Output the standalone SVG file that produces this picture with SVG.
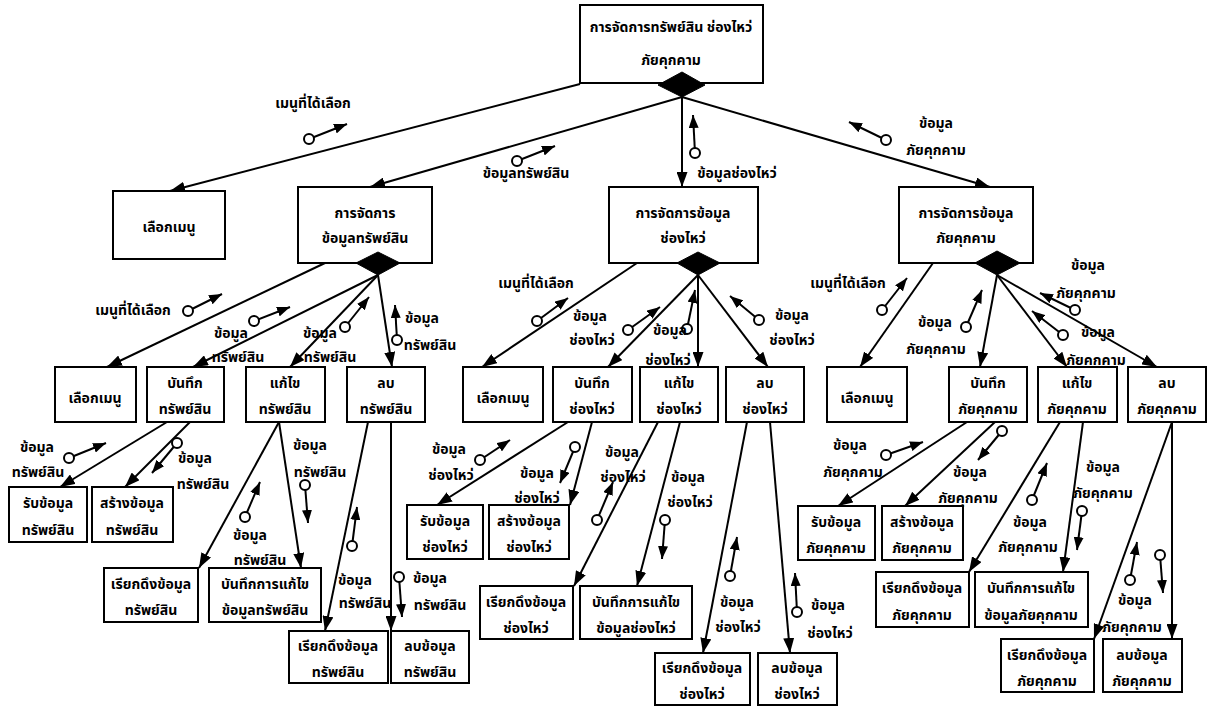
<svg xmlns="http://www.w3.org/2000/svg" width="1210" height="707" viewBox="0 0 1210 707">
<style>
.box{fill:#fff;stroke:#000;stroke-width:2}
.dia{fill:#000;stroke:#000;stroke-width:1}
.con{stroke:#000;stroke-width:2;fill:none;marker-end:url(#arr)}
.cp line{stroke:#000;stroke-width:2;marker-end:url(#carr)}
.cp circle{fill:#fff;stroke:#000;stroke-width:2}
text{font-family:"Noto Sans Thai","Noto Sans","DejaVu Sans",sans-serif;font-weight:bold;font-size:14px;text-anchor:middle;fill:#000}
</style>
<defs>
<marker id="arr" markerUnits="userSpaceOnUse" markerWidth="15" markerHeight="11" refX="15" refY="5.5" orient="auto"><path d="M0,0 L15,5.5 L0,11 z" fill="#000"/></marker>
<marker id="carr" markerUnits="userSpaceOnUse" markerWidth="13" markerHeight="10" refX="13" refY="5" orient="auto"><path d="M0,0 L13,5 L0,10 z" fill="#000"/></marker>
</defs>
<rect width="1210" height="707" fill="#fff"/>

<g id="connectors">
<line class="con" x1="580" y1="84" x2="170" y2="191"/>
<line class="con" x1="682" y1="97" x2="370" y2="187"/>
<line class="con" x1="682" y1="97" x2="682" y2="187"/>
<line class="con" x1="682" y1="97" x2="990" y2="187"/>
<line class="con" x1="325" y1="263" x2="107" y2="367"/>
<line class="con" x1="378" y1="275" x2="193" y2="367"/>
<line class="con" x1="378" y1="275" x2="290" y2="367"/>
<line class="con" x1="378" y1="275" x2="392" y2="367"/>
<line class="con" x1="637" y1="263" x2="482" y2="367"/>
<line class="con" x1="698" y1="275" x2="608" y2="367"/>
<line class="con" x1="698" y1="275" x2="698" y2="367"/>
<line class="con" x1="698" y1="275" x2="768" y2="367"/>
<line class="con" x1="933" y1="263" x2="860" y2="367"/>
<line class="con" x1="997" y1="275" x2="980" y2="367"/>
<line class="con" x1="997" y1="275" x2="1067" y2="367"/>
<line class="con" x1="997" y1="275" x2="1157" y2="367"/>
<line class="con" x1="167" y1="422" x2="60" y2="487"/>
<line class="con" x1="190" y1="422" x2="125" y2="487"/>
<line class="con" x1="279" y1="422" x2="199" y2="568"/>
<line class="con" x1="279" y1="422" x2="301" y2="568"/>
<line class="con" x1="368" y1="422" x2="325" y2="631"/>
<line class="con" x1="391" y1="422" x2="391" y2="631"/>
<line class="con" x1="568" y1="422" x2="437" y2="505"/>
<line class="con" x1="592" y1="422" x2="570" y2="505"/>
<line class="con" x1="658" y1="422" x2="574" y2="586"/>
<line class="con" x1="680" y1="422" x2="637" y2="586"/>
<line class="con" x1="747" y1="422" x2="703" y2="653"/>
<line class="con" x1="770" y1="422" x2="790" y2="653"/>
<line class="con" x1="967" y1="422" x2="838" y2="506"/>
<line class="con" x1="995" y1="422" x2="905" y2="506"/>
<line class="con" x1="1060" y1="422" x2="969" y2="572"/>
<line class="con" x1="1083" y1="422" x2="1063" y2="572"/>
<line class="con" x1="1172" y1="422" x2="1094" y2="639"/>
<line class="con" x1="1172" y1="422" x2="1172" y2="639"/>
</g>

<g id="couples">
<g class="cp"><line x1="309" y1="139" x2="347" y2="124"/><circle cx="309" cy="139" r="5"/></g>
<g class="cp"><line x1="517" y1="161" x2="555" y2="146"/><circle cx="517" cy="161" r="5"/></g>
<g class="cp"><line x1="695" y1="153" x2="693" y2="115"/><circle cx="695" cy="153" r="5"/></g>
<g class="cp"><line x1="886" y1="140" x2="849" y2="122"/><circle cx="886" cy="140" r="5"/></g>
<g class="cp"><line x1="188" y1="311" x2="222" y2="294"/><circle cx="188" cy="311" r="5"/></g>
<g class="cp"><line x1="254" y1="321" x2="290" y2="307"/><circle cx="254" cy="321" r="5"/></g>
<g class="cp"><line x1="345" y1="327" x2="369" y2="297"/><circle cx="345" cy="327" r="5"/></g>
<g class="cp"><line x1="397" y1="340" x2="395" y2="305"/><circle cx="397" cy="340" r="5"/></g>
<g class="cp"><line x1="537" y1="321" x2="568" y2="298"/><circle cx="537" cy="321" r="5"/></g>
<g class="cp"><line x1="628" y1="330" x2="660" y2="307"/><circle cx="628" cy="330" r="5"/></g>
<g class="cp"><line x1="687" y1="329" x2="695" y2="290"/><circle cx="687" cy="329" r="5"/></g>
<g class="cp"><line x1="759" y1="320" x2="730" y2="296"/><circle cx="759" cy="320" r="5"/></g>
<g class="cp"><line x1="882" y1="310" x2="907" y2="278"/><circle cx="882" cy="310" r="5"/></g>
<g class="cp"><line x1="966" y1="327" x2="982" y2="290"/><circle cx="966" cy="327" r="5"/></g>
<g class="cp"><line x1="1063" y1="335" x2="1032" y2="311"/><circle cx="1063" cy="335" r="5"/></g>
<g class="cp"><line x1="1075" y1="310" x2="1040" y2="293"/><circle cx="1075" cy="310" r="5"/></g>
<g class="cp"><line x1="69" y1="458" x2="106" y2="443"/><circle cx="69" cy="458" r="5"/></g>
<g class="cp"><line x1="177" y1="443" x2="152" y2="473"/><circle cx="177" cy="443" r="5"/></g>
<g class="cp"><line x1="245" y1="517" x2="260" y2="482"/><circle cx="245" cy="517" r="5"/></g>
<g class="cp"><line x1="305" y1="485" x2="308" y2="523"/><circle cx="305" cy="485" r="5"/></g>
<g class="cp"><line x1="352" y1="546" x2="357" y2="507"/><circle cx="352" cy="546" r="5"/></g>
<g class="cp"><line x1="399" y1="577" x2="402" y2="617"/><circle cx="399" cy="577" r="5"/></g>
<g class="cp"><line x1="480" y1="460" x2="510" y2="440"/><circle cx="480" cy="460" r="5"/></g>
<g class="cp"><line x1="575" y1="447" x2="560" y2="483"/><circle cx="575" cy="447" r="5"/></g>
<g class="cp"><line x1="597" y1="520" x2="613" y2="482"/><circle cx="597" cy="520" r="5"/></g>
<g class="cp"><line x1="665" y1="520" x2="662" y2="559"/><circle cx="665" cy="520" r="5"/></g>
<g class="cp"><line x1="730" y1="576" x2="737" y2="537"/><circle cx="730" cy="576" r="5"/></g>
<g class="cp"><line x1="797" y1="612" x2="795" y2="573"/><circle cx="797" cy="612" r="5"/></g>
<g class="cp"><line x1="886" y1="455" x2="923" y2="442"/><circle cx="886" cy="455" r="5"/></g>
<g class="cp"><line x1="1002" y1="431" x2="978" y2="460"/><circle cx="1002" cy="431" r="5"/></g>
<g class="cp"><line x1="1032" y1="500" x2="1047" y2="463"/><circle cx="1032" cy="500" r="5"/></g>
<g class="cp"><line x1="1082" y1="511" x2="1077" y2="550"/><circle cx="1082" cy="511" r="5"/></g>
<g class="cp"><line x1="1130" y1="580" x2="1137" y2="542"/><circle cx="1130" cy="580" r="5"/></g>
<g class="cp"><line x1="1160" y1="555" x2="1163" y2="593"/><circle cx="1160" cy="555" r="5"/></g>
</g>

<g id="couple-labels">
<text x="313" y="108">เมนูที่ได้เลือก</text>
<text x="526" y="178">ข้อมูลทรัพย์สิน</text>
<text x="737" y="178">ข้อมูลช่องไหว่</text>
<text x="936" y="128">ข้อมูล</text><text x="936" y="155">ภัยคุกคาม</text>
<text x="133" y="315">เมนูที่ได้เลือก</text>
<text x="231" y="338">ข้อมูล</text><text x="238" y="362">ทรัพย์สิน</text>
<text x="320" y="338">ข้อมูล</text><text x="330" y="362">ทรัพย์สิน</text>
<text x="422" y="323">ข้อมูล</text><text x="430" y="350">ทรัพย์สิน</text>
<text x="536" y="288">เมนูที่ได้เลือก</text>
<text x="590" y="321">ข้อมูล</text><text x="592" y="345">ช่องไหว่</text>
<text x="670" y="335">ข้อมูล</text><text x="668" y="365">ช่องไหว่</text>
<text x="792" y="320">ข้อมูล</text><text x="792" y="345">ช่องไหว่</text>
<text x="848" y="288">เมนูที่ได้เลือก</text>
<text x="935" y="327">ข้อมูล</text><text x="936" y="354">ภัยคุกคาม</text>
<text x="1098" y="337">ข้อมูล</text><text x="1096" y="365">ภัยคุกคาม</text>
<text x="1088" y="270">ข้อมูล</text><text x="1086" y="298">ภัยคุกคาม</text>
<text x="37" y="452">ข้อมูล</text><text x="38" y="477">ทรัพย์สิน</text>
<text x="195" y="463">ข้อมูล</text><text x="203" y="489">ทรัพย์สิน</text>
<text x="250" y="540">ข้อมูล</text><text x="260" y="565">ทรัพย์สิน</text>
<text x="310" y="450">ข้อมูล</text><text x="320" y="477">ทรัพย์สิน</text>
<text x="355" y="585">ข้อมูล</text><text x="365" y="608">ทรัพย์สิน</text>
<text x="430" y="583">ข้อมูล</text><text x="440" y="610">ทรัพย์สิน</text>
<text x="449" y="454">ข้อมูล</text><text x="451" y="480">ช่องไหว่</text>
<text x="537" y="478">ข้อมูล</text><text x="537" y="503">ช่องไหว่</text>
<text x="622" y="457">ข้อมูล</text><text x="623" y="482">ช่องไหว่</text>
<text x="688" y="482">ข้อมูล</text><text x="690" y="507">ช่องไหว่</text>
<text x="737" y="607">ข้อมูล</text><text x="738" y="632">ช่องไหว่</text>
<text x="828" y="610">ข้อมูล</text><text x="830" y="638">ช่องไหว่</text>
<text x="850" y="450">ข้อมูล</text><text x="853" y="477">ภัยคุกคาม</text>
<text x="970" y="477">ข้อมูล</text><text x="968" y="503">ภัยคุกคาม</text>
<text x="1030" y="527">ข้อมูล</text><text x="1028" y="552">ภัยคุกคาม</text>
<text x="1103" y="472">ข้อมูล</text><text x="1103" y="498">ภัยคุกคาม</text>
<text x="1135" y="605">ข้อมูล</text><text x="1132" y="632">ภัยคุกคาม</text>
</g>

<g id="n0"><rect class="box" x="580" y="5" width="183" height="78"/><polygon class="dia" points="658,85 682,72 705,85 682,97"/><text x="671" y="32">การจัดการทรัพย์สิน ช่องไหว่</text><text x="671" y="65">ภัยคุกคาม</text></g>

<g id="n1"><rect class="box" x="113" y="191" width="112" height="68"/><text x="169" y="232">เลือกเมนู</text></g>
<g id="n2"><rect class="box" x="298" y="187" width="134" height="76"/><polygon class="dia" points="356,263 378,252 400,263 378,275"/><text x="365" y="218">การจัดการ</text><text x="365" y="243">ข้อมูลทรัพย์สิน</text></g>
<g id="n3"><rect class="box" x="609" y="187" width="149" height="76"/><polygon class="dia" points="677,263 698,252 720,263 698,275"/><text x="683" y="218">การจัดการข้อมูล</text><text x="683" y="243">ช่องไหว่</text></g>
<g id="n4"><rect class="box" x="899" y="187" width="134" height="76"/><polygon class="dia" points="975,263 997,251 1020,263 997,275"/><text x="966" y="218">การจัดการข้อมูล</text><text x="966" y="243">ภัยคุกคาม</text></g>

<g id="n2a"><rect class="box" x="55" y="367" width="81" height="55"/><text x="95" y="403">เลือกเมนู</text></g>
<g id="n2b"><rect class="box" x="147" y="367" width="77" height="55"/><text x="185" y="388">บันทึก</text><text x="185" y="414">ทรัพย์สิน</text></g>
<g id="n2c"><rect class="box" x="246" y="367" width="79" height="55"/><text x="285" y="388">แก้ไข</text><text x="285" y="414">ทรัพย์สิน</text></g>
<g id="n2d"><rect class="box" x="347" y="367" width="78" height="55"/><text x="386" y="388">ลบ</text><text x="386" y="414">ทรัพย์สิน</text></g>
<g id="n3a"><rect class="box" x="463" y="367" width="80" height="55"/><text x="503" y="403">เลือกเมนู</text></g>
<g id="n3b"><rect class="box" x="553" y="367" width="79" height="55"/><text x="592" y="388">บันทึก</text><text x="592" y="414">ช่องไหว่</text></g>
<g id="n3c"><rect class="box" x="640" y="367" width="78" height="55"/><text x="679" y="388">แก้ไข</text><text x="679" y="414">ช่องไหว่</text></g>
<g id="n3d"><rect class="box" x="726" y="367" width="78" height="55"/><text x="765" y="388">ลบ</text><text x="765" y="414">ช่องไหว่</text></g>
<g id="n4a"><rect class="box" x="827" y="367" width="80" height="55"/><text x="867" y="403">เลือกเมนู</text></g>
<g id="n4b"><rect class="box" x="949" y="367" width="78" height="55"/><text x="988" y="388">บันทึก</text><text x="988" y="414">ภัยคุกคาม</text></g>
<g id="n4c"><rect class="box" x="1038" y="367" width="79" height="55"/><text x="1077" y="388">แก้ไข</text><text x="1077" y="414">ภัยคุกคาม</text></g>
<g id="n4d"><rect class="box" x="1128" y="367" width="78" height="55"/><text x="1167" y="388">ลบ</text><text x="1167" y="414">ภัยคุกคาม</text></g>

<g id="n2b1"><rect class="box" x="9" y="487" width="78" height="55"/><text x="48" y="508">รับข้อมูล</text><text x="48" y="535">ทรัพย์สิน</text></g>
<g id="n2b2"><rect class="box" x="92" y="487" width="81" height="55"/><text x="132" y="508">สร้างข้อมูล</text><text x="132" y="535">ทรัพย์สิน</text></g>
<g id="n2c1"><rect class="box" x="104" y="568" width="94" height="54"/><text x="151" y="589">เรียกดึงข้อมูล</text><text x="151" y="615">ทรัพย์สิน</text></g>
<g id="n2c2"><rect class="box" x="209" y="568" width="112" height="54"/><text x="265" y="589">บันทึกการแก้ไข</text><text x="265" y="615">ข้อมูลทรัพย์สิน</text></g>
<g id="n2d1"><rect class="box" x="289" y="631" width="99" height="52"/><text x="338" y="651">เรียกดึงข้อมูล</text><text x="338" y="677">ทรัพย์สิน</text></g>
<g id="n2d2"><rect class="box" x="391" y="631" width="78" height="52"/><text x="430" y="651">ลบข้อมูล</text><text x="430" y="677">ทรัพย์สิน</text></g>

<g id="n3b1"><rect class="box" x="407" y="505" width="76" height="54"/><text x="445" y="526">รับข้อมูล</text><text x="445" y="552">ช่องไหว่</text></g>
<g id="n3b2"><rect class="box" x="489" y="505" width="80" height="54"/><text x="529" y="526">สร้างข้อมูล</text><text x="529" y="552">ช่องไหว่</text></g>
<g id="n3c1"><rect class="box" x="480" y="586" width="93" height="53"/><text x="526" y="607">เรียกดึงข้อมูล</text><text x="526" y="633">ช่องไหว่</text></g>
<g id="n3c2"><rect class="box" x="580" y="586" width="112" height="53"/><text x="636" y="607">บันทึกการแก้ไข</text><text x="636" y="633">ข้อมูลช่องไหว่</text></g>
<g id="n3d1"><rect class="box" x="655" y="653" width="95" height="52"/><text x="702" y="673">เรียกดึงข้อมูล</text><text x="702" y="699">ช่องไหว่</text></g>
<g id="n3d2"><rect class="box" x="758" y="653" width="79" height="52"/><text x="797" y="673">ลบข้อมูล</text><text x="797" y="699">ช่องไหว่</text></g>

<g id="n4b1"><rect class="box" x="798" y="506" width="77" height="54"/><text x="836" y="527">รับข้อมูล</text><text x="836" y="553">ภัยคุกคาม</text></g>
<g id="n4b2"><rect class="box" x="882" y="506" width="81" height="54"/><text x="922" y="527">สร้างข้อมูล</text><text x="922" y="553">ภัยคุกคาม</text></g>
<g id="n4c1"><rect class="box" x="876" y="572" width="93" height="55"/><text x="922" y="593">เรียกดึงข้อมูล</text><text x="922" y="620">ภัยคุกคาม</text></g>
<g id="n4c2"><rect class="box" x="975" y="572" width="113" height="55"/><text x="1031" y="593">บันทึกการแก้ไข</text><text x="1031" y="620">ข้อมูลภัยคุกคาม</text></g>
<g id="n4d1"><rect class="box" x="1001" y="639" width="93" height="53"/><text x="1047" y="660">เรียกดึงข้อมูล</text><text x="1047" y="686">ภัยคุกคาม</text></g>
<g id="n4d2"><rect class="box" x="1103" y="639" width="79" height="53"/><text x="1142" y="660">ลบข้อมูล</text><text x="1142" y="686">ภัยคุกคาม</text></g>
</svg>
